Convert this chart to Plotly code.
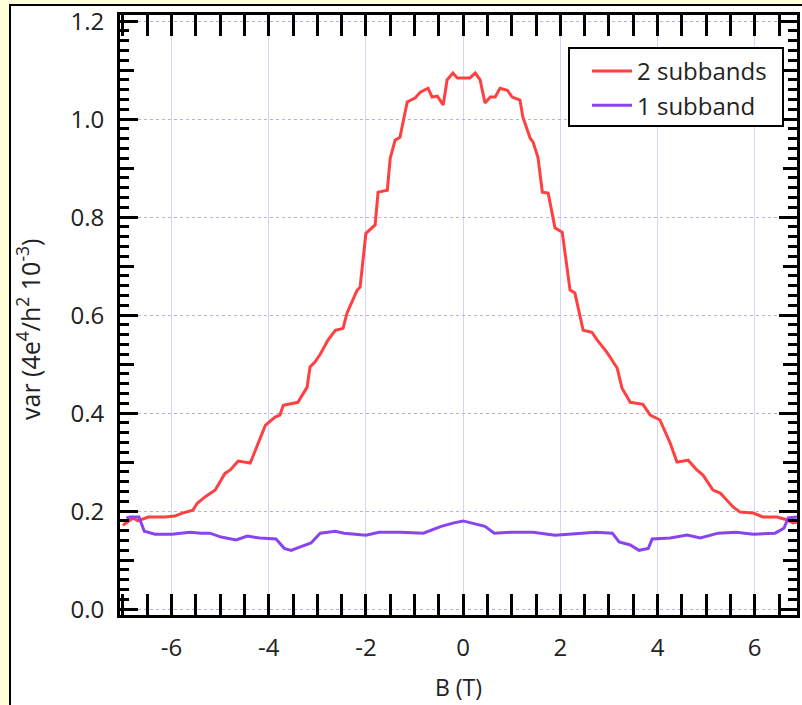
import plotly.graph_objects as go

# ---- data ----
red_B = [-7.0,-6.89,-6.79,-6.69,-6.48,-6.13,-5.93,-5.78,-5.56,-5.47,-5.31,-5.10,-4.90,-4.79,-4.63,-4.38,-4.28,-4.07,-3.87,-3.77,-3.70,-3.40,-3.21,-3.15,-3.05,-2.94,-2.78,-2.63,-2.47,-2.39,-2.18,-2.12,-2.00,-1.87,-1.81,-1.75,-1.56,-1.50,-1.40,-1.30,-1.15,-0.99,-0.88,-0.72,-0.64,-0.53,-0.41,-0.33,-0.21,-0.12,0.14,0.25,0.35,0.45,0.56,0.66,0.76,0.91,1.01,1.17,1.23,1.38,1.44,1.54,1.63,1.75,1.89,2.04,2.20,2.30,2.47,2.65,2.76,2.96,3.09,3.17,3.27,3.44,3.70,3.85,4.05,4.26,4.40,4.63,4.81,4.94,5.14,5.29,5.56,5.70,5.97,6.17,6.46,6.67,6.79,6.93]
red_var = [0.171,0.178,0.186,0.180,0.188,0.188,0.190,0.196,0.202,0.216,0.229,0.243,0.277,0.284,0.302,0.298,0.324,0.375,0.392,0.396,0.416,0.422,0.453,0.494,0.504,0.52,0.549,0.569,0.573,0.604,0.651,0.657,0.767,0.778,0.784,0.851,0.855,0.920,0.957,0.963,1.035,1.043,1.055,1.063,1.045,1.047,1.029,1.080,1.094,1.084,1.084,1.094,1.080,1.033,1.045,1.045,1.063,1.059,1.045,1.039,1.004,0.961,0.953,0.922,0.851,0.849,0.778,0.769,0.651,0.645,0.569,0.565,0.549,0.524,0.504,0.492,0.451,0.422,0.418,0.396,0.386,0.339,0.300,0.304,0.284,0.273,0.243,0.237,0.208,0.198,0.196,0.188,0.188,0.182,0.176,0.178]

pur_B = [-6.93,-6.85,-6.67,-6.56,-6.34,-5.99,-5.62,-5.39,-5.21,-4.98,-4.67,-4.44,-4.18,-3.85,-3.68,-3.54,-3.35,-3.13,-2.94,-2.63,-2.45,-2.00,-1.73,-1.28,-0.82,-0.45,-0.19,0.0,0.16,0.45,0.64,0.99,1.44,1.89,2.45,2.72,3.07,3.21,3.44,3.62,3.81,3.89,4.26,4.61,4.88,5.25,5.62,5.97,6.42,6.60,6.69,6.87]
pur_var = [0.186,0.188,0.188,0.159,0.153,0.153,0.157,0.155,0.155,0.147,0.141,0.149,0.145,0.143,0.124,0.120,0.127,0.135,0.155,0.159,0.155,0.151,0.157,0.157,0.155,0.169,0.176,0.180,0.176,0.169,0.155,0.157,0.157,0.151,0.155,0.157,0.155,0.137,0.131,0.120,0.124,0.143,0.145,0.151,0.145,0.155,0.157,0.153,0.155,0.165,0.186,0.188]

series_names = ["2 subbands", "1 subband"]
x_tickvals = [-6, -4, -2, 0, 2, 4, 6]
x_ticktext = ["-6", "-4", "-2", "0", "2", "4", "6"]
y_tickvals = [0.0, 0.2, 0.4, 0.6, 0.8, 1.0, 1.2]
y_ticktext = ["0.0", "0.2", "0.4", "0.6", "0.8", "1.0", "1.2"]
x_title = "B (T)"
y_title = "var (4e<sup>4</sup>/h<sup>2</sup> 10<sup>-3</sup>)"

# tick positions for medium and small y ticks (every 0.1 and every 0.02)
y_mid_ticks = [round(0.1 + 0.2 * i, 3) for i in range(6)]
y_small_ticks = [round(0.02 * i, 3) for i in range(61)]

FONT = "Open Sans"
TXT = "#222222"
W, H = 802, 705
ML, MR, MT, MB = 120, 5, 15, 90

fig = go.Figure()
fig.add_trace(go.Scatter(x=red_B, y=red_var, mode="lines", name=series_names[0],
                         line=dict(color="#ff4040", width=3)))
fig.add_trace(go.Scatter(x=pur_B, y=pur_var, mode="lines", name=series_names[1],
                         line=dict(color="#8a44ee", width=3)))
fig.add_trace(go.Scatter(x=[0], y=[0], yaxis="y2", mode="markers", opacity=0,
                         showlegend=False, hoverinfo="skip"))
fig.add_trace(go.Scatter(x=[0], y=[0], yaxis="y3", mode="markers", opacity=0,
                         showlegend=False, hoverinfo="skip"))

pw = W - ML - MR
ph = H - MT - MB
def px_x(p):
    return (p - ML) / pw
def px_y(p):
    return (H - MB - p) / ph

# white frame with black border on yellow page
fig.add_shape(type="rect", xref="paper", yref="paper",
              x0=px_x(10), x1=px_x(830), y0=px_y(740), y1=px_y(5),
              fillcolor="white", line=dict(color="black", width=2), layer="below")
# legend box
fig.add_shape(type="rect", xref="paper", yref="paper",
              x0=px_x(569), x1=px_x(783), y0=px_y(126), y1=px_y(48),
              fillcolor="white", line=dict(color="black", width=2), layer="above")

fig.add_annotation(text=y_title, xref="paper", yref="paper", x=px_x(28), y=px_y(329),
                   textangle=-90, showarrow=False, xanchor="center", yanchor="middle",
                   font=dict(family=FONT, size=25, color=TXT))

yrange = [-0.012, 1.2125]
tick_common = dict(ticks="inside", tickwidth=2.5, tickcolor="black", tickmode="array",
                   showgrid=False, zeroline=False, showline=False,
                   showticklabels=False, mirror="allticks", automargin=False,
                   overlaying="y", side="left", range=yrange)
fig.update_layout(
    width=W, height=H,
    margin=dict(l=ML, r=MR, t=MT, b=MB, autoexpand=False),
    paper_bgcolor="rgb(255,255,218)",
    plot_bgcolor="white",
    font=dict(family=FONT, size=24, color=TXT),
    showlegend=True,
    legend=dict(x=px_x(587), y=px_y(49), xanchor="left", yanchor="top",
                bgcolor="rgba(0,0,0,0)", borderwidth=0,
                font=dict(family=FONT, size=24, color=TXT),
                tracegroupgap=0, itemwidth=40),
    xaxis=dict(range=[-7.06, 6.87], tickvals=x_tickvals, ticktext=x_ticktext,
               automargin=False,
               ticks="inside", ticklen=21, tickwidth=2.5, tickcolor="black",
               showline=True, linewidth=2.5, linecolor="black", mirror="allticks",
               showgrid=True, gridcolor="#d4d4ff", gridwidth=1,
               zeroline=False, ticklabelstandoff=9,
               minor=dict(tick0=0, dtick=0.5, ticks="inside", ticklen=9, tickwidth=2.5,
                          tickcolor="black", showgrid=False),
               title=dict(text=x_title, font=dict(size=23), standoff=19)),
    yaxis=dict(range=yrange, tickvals=y_tickvals, ticktext=y_ticktext, automargin=False,
               ticks="inside", ticklen=18, tickwidth=2.5, tickcolor="black",
               showline=True, linewidth=3, linecolor="black", mirror="allticks",
               showgrid=True, gridcolor="#b0b0ff", gridwidth=1, griddash="dot",
               zeroline=False, ticklabelstandoff=8),
    yaxis2=dict(tickvals=y_mid_ticks, ticklen=14, **tick_common),
    yaxis3=dict(tickvals=y_small_ticks, ticklen=9, **tick_common),
)

fig.write_html("out.html", config={"displayModeBar": False},
               post_script="document.body.style.margin='0px';document.body.style.overflow='hidden';")
